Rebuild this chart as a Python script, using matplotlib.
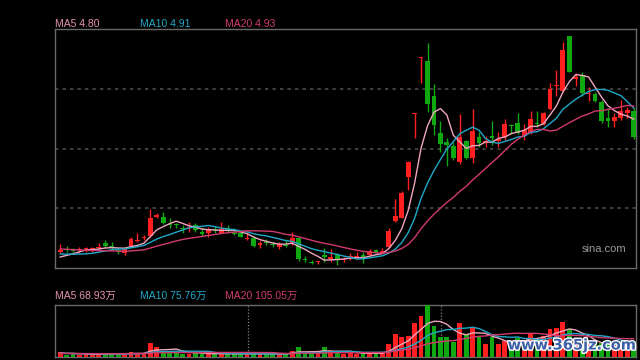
import matplotlib
matplotlib.use("Agg")
import matplotlib.pyplot as plt
import matplotlib.patheffects as pe
import numpy as np

# ---------------- data ----------------
opens = [3.47,3.50,3.49,3.49,3.50,3.50,3.51,3.56,3.53,3.49,
         3.46,3.53,3.58,3.61,3.63,3.82,3.82,3.75,3.75,3.71,
         3.71,3.74,3.67,3.66,3.70,3.66,3.70,3.66,3.66,3.60,
         3.61,3.54,3.57,3.55,3.52,3.54,3.56,3.61,3.40,3.37,
         3.37,3.44,3.40,3.44,3.39,3.42,3.41,3.44,3.44,3.49,
         3.46,3.52,3.78,3.81,4.22,4.85,5.41,5.38,5.03,4.66,
         4.57,4.53,4.37,4.58,4.41,4.62,4.56,4.63,4.58,4.62,
         4.74,4.76,4.63,4.67,4.76,4.75,4.90,5.13,5.08,5.63,
         5.20,5.24,5.05,5.05,4.97,4.81,4.78,4.81,4.86,4.88]
closes = [3.49,3.49,3.48,3.49,3.50,3.51,3.52,3.53,3.51,3.48,
          3.50,3.60,3.59,3.62,3.81,3.84,3.76,3.74,3.74,3.70,
          3.72,3.69,3.65,3.70,3.69,3.70,3.69,3.65,3.62,3.61,
          3.53,3.56,3.56,3.54,3.55,3.53,3.61,3.40,3.39,3.36,
          3.37,3.42,3.42,3.40,3.39,3.42,3.43,3.42,3.48,3.46,
          3.48,3.68,3.83,4.06,4.37,4.86,5.42,4.95,4.74,4.55,
          4.54,4.41,4.62,4.41,4.68,4.56,4.58,4.61,4.60,4.75,
          4.73,4.66,4.69,4.80,4.75,4.86,5.10,5.14,5.49,5.27,
          5.22,5.06,5.06,4.98,4.78,4.78,4.82,4.88,4.89,4.62]
highs = [3.55,3.53,3.51,3.52,3.52,3.52,3.56,3.59,3.57,3.51,
         3.52,3.62,3.66,3.64,3.90,3.86,3.87,3.81,3.76,3.74,
         3.77,3.76,3.71,3.72,3.73,3.77,3.74,3.71,3.67,3.66,
         3.63,3.58,3.60,3.57,3.57,3.60,3.67,3.61,3.43,3.39,
         3.38,3.51,3.50,3.46,3.42,3.46,3.47,3.47,3.50,3.50,
         3.51,3.71,4.00,4.08,4.38,4.86,5.42,5.56,5.15,4.78,
         4.61,4.57,4.85,4.59,4.90,4.67,4.63,4.78,4.67,4.80,
         4.75,4.86,4.75,4.88,4.88,4.87,5.16,5.29,5.57,5.63,
         5.26,5.27,5.12,5.07,4.99,4.91,4.86,4.99,4.92,4.91]
lows = [3.46,3.47,3.47,3.46,3.47,3.47,3.49,3.51,3.49,3.45,
        3.44,3.52,3.57,3.59,3.62,3.81,3.75,3.71,3.71,3.66,
        3.67,3.67,3.63,3.62,3.66,3.66,3.66,3.64,3.62,3.59,
        3.52,3.51,3.54,3.52,3.50,3.52,3.54,3.38,3.37,3.35,
        3.35,3.37,3.37,3.34,3.37,3.39,3.40,3.36,3.43,3.46,
        3.46,3.51,3.77,3.81,4.09,4.61,5.16,4.87,4.64,4.47,
        4.33,4.39,4.35,4.40,4.36,4.52,4.52,4.54,4.52,4.59,
        4.65,4.65,4.59,4.65,4.72,4.74,4.89,5.03,5.07,5.27,
        5.13,5.03,4.98,4.97,4.76,4.72,4.72,4.79,4.81,4.60]
# closes of the 19 sessions before the visible window (for moving averages)
prior_closes = [3.54,3.56,3.55,3.57,3.55,3.54,3.56,3.55,3.53,3.55,
                3.50,3.48,3.49,3.47,3.46,3.41,3.40,3.39,3.41]

# volume in 万 shares
volumes = [26,14,16,14,16,14,18,20,18,16,
           22,26,22,20,80,56,30,30,34,20,
           18,22,20,18,20,16,18,18,20,20,
           16,18,18,20,16,18,36,56,22,20,
           22,60,40,24,20,22,20,22,20,22,
           24,74,134,114,120,194,236,300,180,114,
           114,86,194,130,170,114,74,114,74,94,
           83.4,110,100,140,100,120,160,170,200,160,
           90,70,95,78,79.95,74,62,70,66,72.65]
prior_volumes = [20,18,22,19,21,18,20,22,19,21,20,18,22,20,19,21,20,22,24]

ma_periods = [5, 10, 20]
ma_colors = ['#f0a6c0', '#1fa9c9', '#d23a6e']
label_colors = ['#e592ad', '#1fa9c9', '#d23a6e']
month_breaks = [29.1, 59.1]

# ---------------- helpers ----------------
def moving_avg(prior, vals, n):
    allv = np.array(list(prior) + list(vals), dtype=float)
    out = np.convolve(allv, np.ones(n) / n, mode='valid')
    return out[-len(vals):]

RED = '#ff1f1f'
GREEN = '#10a810'

n = len(closes)
x = np.arange(n)
o = np.array(opens); c = np.array(closes)
h = np.array(highs); l = np.array(lows)
up = c >= o
cols = [RED if u else GREEN for u in up]

fig = plt.figure(figsize=(6.4, 3.6), dpi=100, facecolor='black')
W, H = 640.0, 360.0
ax = fig.add_axes([55 / W, 1 - 268 / H, 581 / W, 239 / H])
axv = fig.add_axes([55 / W, 1 - 357 / H, 581 / W, 52 / H])

for a in (ax, axv):
    a.set_facecolor('black')
    a.set_xticks([]); a.set_yticks([])
    for s in a.spines.values():
        s.set_color('#6a6a6a'); s.set_linewidth(1)
    a.set_xlim(-0.8, n - 0.65)

# price panel
ylo, yhi = 3.31, 5.70
ax.set_ylim(ylo, yhi)
for k in (1, 2, 3):
    ax.axhline(ylo + k * (yhi - ylo) / 4, color='#4a4a4a', lw=1.2,
               linestyle=(0, (2, 2.5)), zorder=0)

ax.vlines(x, l, h, colors=cols, lw=1, zorder=2)
body_bottom = np.minimum(o, c)
body_h = np.maximum(np.abs(c - o), 0.009)
ax.bar(x, body_h, bottom=body_bottom, width=0.74, color=cols, linewidth=0, zorder=3)

for p, col in zip(ma_periods, ma_colors):
    ax.plot(x, moving_avg(prior_closes, closes, p), color=col, lw=1.0, zorder=4)

ax.text(582 / W, 1 - 249.5 / H, 'sina.com', transform=fig.transFigure,
        color='#9a9a9a', fontsize=8, family='Liberation Sans', va='center', ha='left')

# price legend
lx = [55, 140, 225]
for p, col, xx in zip(ma_periods, label_colors, lx):
    v = moving_avg(prior_closes, closes, p)[-1]
    fig.text(xx / W, 1 - 24 / H, f'MA{p} {v:.2f}', color=col, fontsize=7.5,
             family='Liberation Sans', va='center', ha='left')

# volume panel
vol = np.array(volumes)
axv.set_ylim(0, max(volumes) * 1.0)
axv.bar(x, vol, width=0.74, color=cols, linewidth=0, zorder=3)
for mb in month_breaks:
    axv.axvline(mb, color='#808080', lw=0.9, linestyle=(0, (1, 1.5)), zorder=1)
for p, col in zip(ma_periods, ma_colors):
    axv.plot(x, moving_avg(prior_volumes, volumes, p), color=col, lw=1.0, zorder=4)

for p, col, xx in zip(ma_periods, label_colors, lx):
    v = moving_avg(prior_volumes, volumes, p)[-1]
    fig.text(xx / W, 1 - 296 / H, f'MA{p} {v:.2f}万', color=col, fontsize=7.5,
             family=['Liberation Sans', 'Noto Sans CJK SC'], va='center', ha='left')

fig.text(572 / W, 1 - 345 / H, 'www.365jz.com', color='#3d5fa6', fontsize=10.5,
         fontweight='bold', family='DejaVu Sans', ha='center', va='center',
         path_effects=[pe.withStroke(linewidth=2.0, foreground='white')])

fig.savefig('out.png', dpi=100, facecolor='black')
